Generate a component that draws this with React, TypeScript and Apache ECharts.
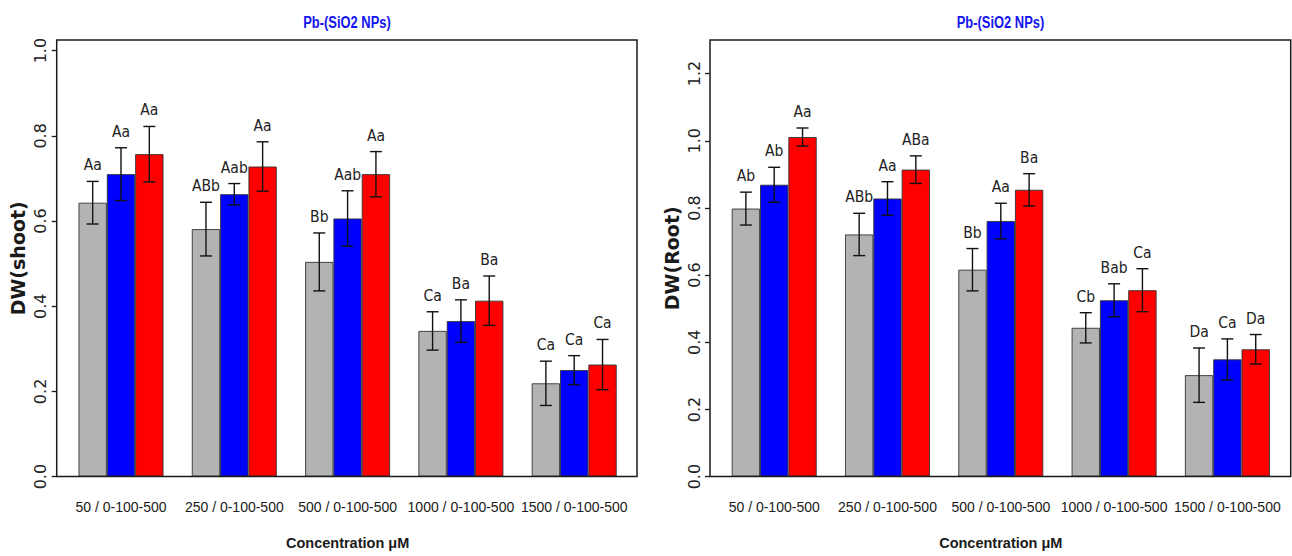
import React, { useEffect, useRef } from "react";
import * as echarts from "echarts";

// ---------- data ----------
const categories = [
  "50 / 0-100-500",
  "250 / 0-100-500",
  "500 / 0-100-500",
  "1000 / 0-100-500",
  "1500 / 0-100-500",
];
const seriesNames = ["SiO2 NPs 0", "SiO2 NPs 100", "SiO2 NPs 500"];
const barColors = ["#b3b3b3", "#0000ff", "#ff0000"];

// DW(shoot)
const shootGray = [0.643, 0.581, 0.504, 0.342, 0.219];
const shootBlue = [0.71, 0.663, 0.606, 0.365, 0.25];
const shootRed = [0.757, 0.728, 0.71, 0.413, 0.263];
const shootGraySd = [0.05, 0.063, 0.068, 0.045, 0.052];
const shootBlueSd = [0.062, 0.025, 0.065, 0.05, 0.034];
const shootRedSd = [0.065, 0.058, 0.053, 0.058, 0.059];
const shootGrayLetters = ["Aa", "ABb", "Bb", "Ca", "Ca"];
const shootBlueLetters = ["Aa", "Aab", "Aab", "Ba", "Ca"];
const shootRedLetters = ["Aa", "Aa", "Aa", "Ba", "Ca"];

// DW(Root)
const rootGray = [0.798, 0.721, 0.616, 0.443, 0.302];
const rootBlue = [0.869, 0.828, 0.761, 0.525, 0.349];
const rootRed = [1.011, 0.914, 0.854, 0.555, 0.379];
const rootGraySd = [0.049, 0.063, 0.063, 0.045, 0.081];
const rootBlueSd = [0.052, 0.05, 0.053, 0.049, 0.061];
const rootRedSd = [0.027, 0.041, 0.048, 0.064, 0.044];
const rootGrayLetters = ["Ab", "ABb", "Bb", "Cb", "Da"];
const rootBlueLetters = ["Ab", "Aa", "Aa", "Bab", "Ca"];
const rootRedLetters = ["Aa", "ABa", "Ba", "Ca", "Da"];

const shootTicks = [0, 0.2, 0.4, 0.6, 0.8, 1.0];
const rootTicks = [0, 0.2, 0.4, 0.6, 0.8, 1.0, 1.2];

const titleText = "Pb-(SiO2 NPs)";
const xName = "Concentration μM";

// ---------- styles ----------
const NARROW = "'Liberation Sans', Arial, sans-serif";
const COND = "'DejaVu Sans Condensed', 'Liberation Sans', sans-serif";
const WIDE = "'DejaVu Sans', 'Liberation Sans', sans-serif";
const INK = "#1a1a1a";

function barSeries(grid: number, k: number, values: number[]) {
  return {
    type: "bar",
    name: seriesNames[k],
    xAxisIndex: grid,
    yAxisIndex: grid,
    data: values,
    barWidth: "25%",
    barGap: "0%",
    itemStyle: { color: barColors[k], borderColor: "#333", borderWidth: 0.9 },
    z: 2,
  };
}

function errSeries(grid: number, k: number, means: number[], sds: number[], letters: string[]) {
  return {
    type: "custom",
    name: seriesNames[k] + " sd",
    xAxisIndex: grid,
    yAxisIndex: grid,
    data: means.map((m, i) => [i, m - sds[i], m + sds[i]]),
    encode: { x: 0, y: [1, 2] },
    clip: false,
    z: 5,
    renderItem: (params: any, api: any) => {
      const i = api.value(0);
      const lo = api.coord([i, api.value(1)]);
      const hi = api.coord([i, api.value(2)]);
      const band = api.size([1, 0])[0];
      const x = lo[0] + (k - 1) * band * 0.25;
      const cap = 6;
      const st = { stroke: "#111", lineWidth: 1.4 };
      return {
        type: "group",
        children: [
          { type: "line", shape: { x1: x, y1: lo[1], x2: x, y2: hi[1] }, style: st },
          { type: "line", shape: { x1: x - cap, y1: lo[1], x2: x + cap, y2: lo[1] }, style: st },
          { type: "line", shape: { x1: x - cap, y1: hi[1], x2: x + cap, y2: hi[1] }, style: st },
          {
            type: "text",
            x: x,
            y: hi[1] - 8,
            style: {
              text: letters[params.dataIndex],
              align: "center",
              verticalAlign: "bottom",
              fontSize: 15.5,
              fontFamily: COND,
              fill: "#222",
            },
          },
        ],
      };
    },
  };
}

function xAxisOf(grid: number) {
  return {
    type: "category",
    gridIndex: grid,
    data: categories,
    axisLine: { show: false },
    axisTick: { show: false },
    axisLabel: { interval: 0, fontSize: 14, fontFamily: NARROW, color: INK, margin: 23 },
    name: xName,
    nameLocation: "middle",
    nameGap: 59,
    nameTextStyle: { fontSize: 14.5, fontWeight: "bold", fontFamily: NARROW, color: INK },
  };
}

function yAxisOf(grid: number, max: number, ticks: number[], name: string, offset: number) {
  return {
    type: "value",
    gridIndex: grid,
    min: 0,
    max: max,
    offset: offset,
    axisLine: { show: false },
    splitLine: { show: false },
    axisTick: { show: true, length: 5, customValues: ticks, lineStyle: { color: INK, width: 1.3 } },
    axisLabel: {
      rotate: 90,
      customValues: ticks,
      formatter: (v: number) => v.toFixed(1),
      fontSize: 16,
      fontFamily: WIDE,
      color: "#222",
      margin: 8,
    },
    name: name,
    nameLocation: "middle",
    nameGap: 29,
    nameTextStyle: { fontSize: 19, fontWeight: "bold", fontFamily: WIDE, color: INK },
  };
}

function titleGraphic(cx: number) {
  return {
    type: "text",
    x: cx,
    y: 22,
    scaleX: 0.76,
    z: 100,
    silent: true,
    style: {
      text: titleText,
      align: "center",
      verticalAlign: "middle",
      fontSize: 17,
      fontWeight: "bold",
      fontFamily: NARROW,
      fill: "#1414ee",
    },
  };
}

export default function App() {
  const ref = useRef<HTMLDivElement>(null);
  useEffect(() => {
    if (!ref.current) return;
    const chart = echarts.init(ref.current, undefined, { renderer: "svg" });
    const option: any = {
      animation: false,
      backgroundColor: "#ffffff",
      grid: [
        { left: 64.35, width: 566.5, top: 40, height: 436.6 },
        { left: 717.55, width: 566.5, top: 40, height: 436.6 },
      ],
      xAxis: [xAxisOf(0), xAxisOf(1)],
      yAxis: [
        yAxisOf(0, 1.025, shootTicks, "DW(shoot)", 7.65),
        yAxisOf(1, 1.3, rootTicks, "DW(Root)", 7.55),
      ],
      series: [
        barSeries(0, 0, shootGray),
        barSeries(0, 1, shootBlue),
        barSeries(0, 2, shootRed),
        errSeries(0, 0, shootGray, shootGraySd, shootGrayLetters),
        errSeries(0, 1, shootBlue, shootBlueSd, shootBlueLetters),
        errSeries(0, 2, shootRed, shootRedSd, shootRedLetters),
        barSeries(1, 0, rootGray),
        barSeries(1, 1, rootBlue),
        barSeries(1, 2, rootRed),
        errSeries(1, 0, rootGray, rootGraySd, rootGrayLetters),
        errSeries(1, 1, rootBlue, rootBlueSd, rootBlueLetters),
        errSeries(1, 2, rootRed, rootRedSd, rootRedLetters),
      ],
      graphic: [
        titleGraphic(347),
        titleGraphic(1000.5),
        {
          type: "rect",
          z: 100,
          silent: true,
          shape: { x: 56.7, y: 40, width: 580.3, height: 436.6 },
          style: { fill: "none", stroke: INK, lineWidth: 1.5 },
        },
        {
          type: "rect",
          z: 100,
          silent: true,
          shape: { x: 710, y: 40, width: 580.7, height: 436.6 },
          style: { fill: "none", stroke: INK, lineWidth: 1.5 },
        },
      ],
    };
    chart.setOption(option);
    return () => chart.dispose();
  }, []);
  return (
    <div
      ref={ref}
      style={{ position: "absolute", left: 0, top: 0, width: 1292, height: 556, background: "#fff" }}
    />
  );
}
